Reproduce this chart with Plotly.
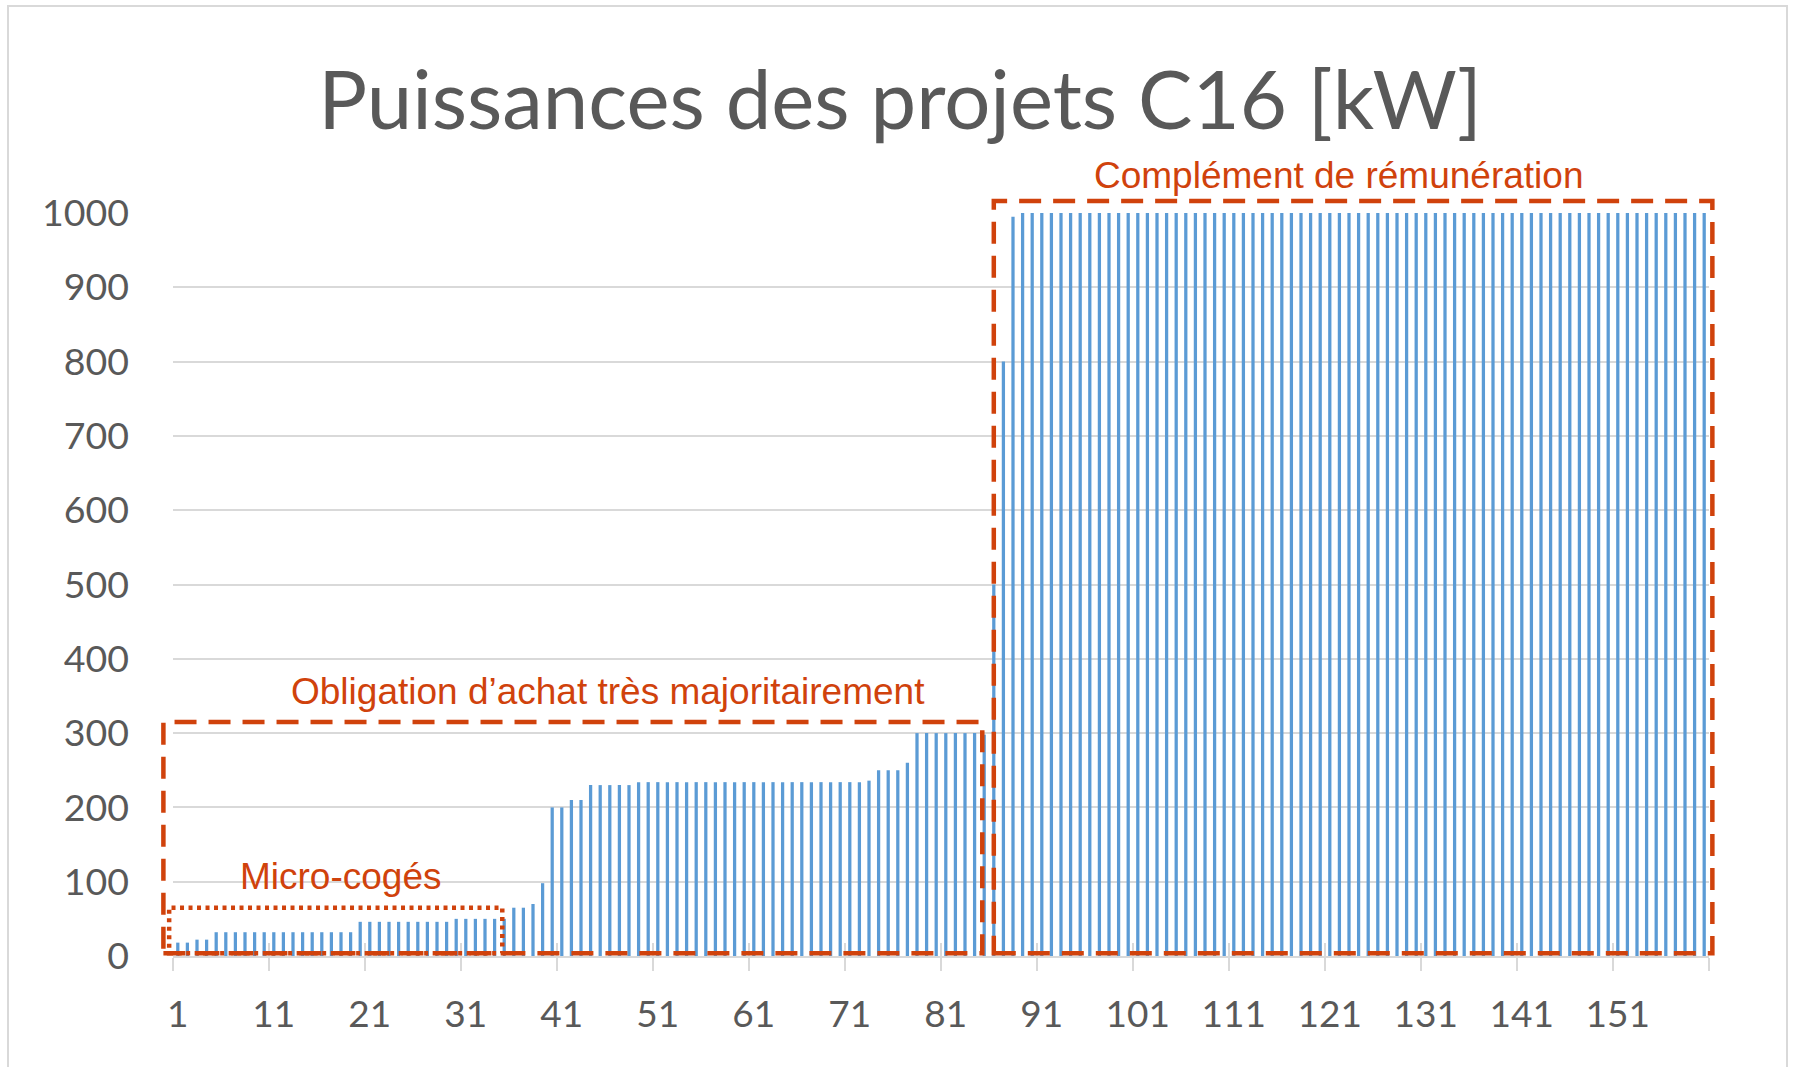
import plotly.graph_objects as go

# ---------------- data ----------------
projects = list(range(1, 161))
power_kw = [
    18, 18, 22, 22, 32, 32, 32, 32, 32, 32,
    32, 32, 32, 32, 32, 32, 32, 32, 32, 46,
    46, 46, 46, 46, 46, 46, 46, 46, 46, 50,
    50, 50, 50, 50, 50, 65, 65, 70, 98, 200,
    200, 210, 210, 230, 230, 230, 230, 230, 234, 234,
    234, 234, 234, 234, 234, 234, 234, 234, 234, 234,
    234, 234, 234, 234, 234, 234, 234, 234, 234, 234,
    234, 234, 236, 250, 250, 250, 260, 300, 300, 300,
    300, 300, 300, 300, 298, 500, 800, 995, 1000, 1000,
    1000, 1000, 1000, 1000, 1000, 1000, 1000, 1000, 1000, 1000,
    1000, 1000, 1000, 1000, 1000, 1000, 1000, 1000, 1000, 1000,
    1000, 1000, 1000, 1000, 1000, 1000, 1000, 1000, 1000, 1000,
    1000, 1000, 1000, 1000, 1000, 1000, 1000, 1000, 1000, 1000,
    1000, 1000, 1000, 1000, 1000, 1000, 1000, 1000, 1000, 1000,
    1000, 1000, 1000, 1000, 1000, 1000, 1000, 1000, 1000, 1000,
    1000, 1000, 1000, 1000, 1000, 1000, 1000, 1000, 1000, 1000,
]
x_tick_vals = [1, 11, 21, 31, 41, 51, 61, 71, 81, 91, 101, 111, 121, 131, 141, 151]
x_tick_text = [str(v) for v in x_tick_vals]
y_tick_vals = [0, 100, 200, 300, 400, 500, 600, 700, 800, 900, 1000]

title_text = "Puissances des projets C16 [kW]"
label_cr = "Complément de rémunération"
label_oa = "Obligation d’achat très majoritairement"
label_mc = "Micro-cogés"

# ---------------- layout constants ----------------
W, H = 1793, 1067
ML, MR, MT, MB = 173, 84, 213, 111
X_RANGE = [0.5, 160.5]
Y_RANGE = [0, 1000]
RED = "#D0420C"
GRAY_TXT = "#595959"
GRID = "#D9D9D9"


def px_x(px):
    return (px - ML) / (W - ML - MR)


def px_y(py):
    return (H - MB - py) / (H - MT - MB)


def dx(v):
    return (v - X_RANGE[0]) / (X_RANGE[1] - X_RANGE[0])


def dy(v):
    return (v - Y_RANGE[0]) / (Y_RANGE[1] - Y_RANGE[0])


fig = go.Figure()
fig.add_trace(go.Bar(
    x=projects, y=power_kw,
    marker=dict(color="#5B9BD5", line=dict(width=0)),
    showlegend=False,
))

# secondary x axis only to draw the "inside" half of the cross tick marks
fig.add_trace(go.Scatter(x=[], y=[], xaxis="x2", showlegend=False))

minor_ticks = [v - 0.5 for v in x_tick_vals] + [160.5]

fig.update_layout(
    width=W, height=H,
    margin=dict(l=ML, r=MR, t=MT, b=MB),
    paper_bgcolor="white", plot_bgcolor="white",
    bargap=0.66,
    title=dict(
        text=title_text, x=900 / W, xref="container", xanchor="center",
        y=1 - 100 / H, yref="container", yanchor="middle",
        font=dict(family="Lato", size=81.5, color=GRAY_TXT),
    ),
    xaxis=dict(
        range=X_RANGE, tickmode="array", tickvals=x_tick_vals, ticktext=x_tick_text,
        ticks="", showgrid=False, zeroline=False,
        showline=True, linecolor=GRID, linewidth=2,
        tickfont=dict(family="Lato", size=37, color=GRAY_TXT),
        ticklabelstandoff=25,
        minor=dict(tickmode="array", tickvals=minor_ticks, ticks="outside",
                   ticklen=13, tickwidth=2, tickcolor=GRID, showgrid=False),
    ),
    xaxis2=dict(
        range=X_RANGE, overlaying="x", anchor="y", side="bottom",
        tickmode="array", tickvals=minor_ticks, ticktext=["" for _ in minor_ticks],
        ticks="inside", ticklen=13, tickwidth=2, tickcolor=GRID,
        showgrid=False, zeroline=False, showline=False, showticklabels=False,
    ),
    yaxis=dict(
        range=Y_RANGE, tickmode="array", tickvals=y_tick_vals,
        showgrid=True, gridcolor=GRID, gridwidth=2, zeroline=False, showline=False,
        ticks="", tickfont=dict(family="Lato", size=37.5, color=GRAY_TXT),
        ticklabelstandoff=43,
    ),
)

# outer chart frame
fig.add_shape(type="rect", xref="paper", yref="paper",
              x0=px_x(8), x1=px_x(1787), y0=px_y(1075), y1=px_y(6),
              line=dict(color=GRID, width=2), fillcolor="rgba(0,0,0,0)", layer="below")

# region boxes (positions in category / kW units, converted to paper)
boxes = [
    # x0, x1, y0, y1, dash, width
    (86.0, 160.85, 3.6, 1016, "22px,12px", 4.5),
    (-0.5, 84.8, 3.6, 315, "22px,12px", 4.5),
    (0.1, 34.8, 3.6, 65, "4px,4.5px", 4.5),
]
for x0, x1, y0, y1, dash, lw in boxes:
    fig.add_shape(type="rect", xref="paper", yref="paper",
                  x0=dx(x0), x1=dx(x1), y0=dy(y0), y1=dy(y1),
                  line=dict(color=RED, width=lw, dash=dash),
                  fillcolor="rgba(0,0,0,0)", layer="above")

labels = [
    (label_cr, 1338, 175),
    (label_oa, 608, 691),
    (label_mc, 341, 876),
]
for txt, cx, cy in labels:
    fig.add_annotation(text=txt, xref="paper", yref="paper",
                       x=px_x(cx), y=px_y(cy), xanchor="center", yanchor="middle",
                       showarrow=False,
                       font=dict(family="Liberation Sans", size=37, color=RED))

fig.write_html(
    "out.html",
    config={"displayModeBar": False},
    post_script="document.body.style.margin='0';document.body.style.overflow='hidden';",
)
